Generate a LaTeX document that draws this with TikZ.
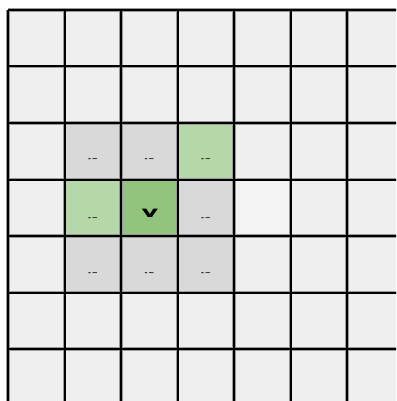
\documentclass[tikz,border=0pt]{standalone}
\usepackage{fontspec}
\setmainfont{Liberation Sans}
\definecolor{base}{HTML}{EFEFEF}
\definecolor{nbr}{HTML}{D9D9D9}
\definecolor{lgreen}{HTML}{B6D7A8}
\definecolor{dgreen}{HTML}{93C47D}
\definecolor{free}{HTML}{F3F3F3}

\begin{document}
\begin{tikzpicture}[
  x=1pt, y=-1pt,
  cell/.style={minimum size=56.5pt, inner sep=0pt, outer sep=0pt, fill=base},
  halo/.style={draw=black!40, line width=3.4pt},
  gridline/.style={draw=black, line width=2pt},
  tag/.style={font=\bfseries\fontsize{9}{9}\selectfont, text=black!85, inner sep=0pt}
]
\useasboundingbox (0,0) rectangle (396,401);
\fill[white] (0,0) rectangle (396,401);
\clip (0,0) rectangle (396,401);

% board cells
\foreach \r in {0,...,6}
  \foreach \c in {0,...,6}
    \node[cell] (c\r\c) at ({36.25+56.5*\c},{38.25+56.5*\r}) {};

% neighbourhood of the current cell
\foreach \r/\c/\col in {2/1/nbr, 2/2/nbr, 3/3/nbr, 4/1/nbr, 4/2/nbr, 4/3/nbr,
                        2/3/lgreen, 3/1/lgreen, 3/2/dgreen, 3/4/free}
  \fill[\col] (c\r\c.north west) rectangle (c\r\c.south east);

% grid lines
\foreach \i in {0,...,7} {
  \draw[halo] ({8+56.5*\i},10) -- ({8+56.5*\i},420);
  \draw[halo] (8,{10+56.5*\i}) -- (420,{10+56.5*\i});
}
\foreach \i in {0,...,7} {
  \draw[gridline] ({8+56.5*\i},10) -- ({8+56.5*\i},420);
  \draw[gridline] (8,{10+56.5*\i}) -- (420,{10+56.5*\i});
}

% clipped labels
\foreach \r/\c/\dy in {2/1/-9, 2/2/-9, 2/3/-9, 3/1/-11, 3/3/-11, 4/1/-10, 4/2/-10, 4/3/-10}
  \node[tag] at ([yshift=\dy pt]c\r\c) {-\,--};

\begin{scope}
  \clip (121,179.5) rectangle (177.5,216.5);
  \node[font=\bfseries\fontsize{31}{31}\selectfont, inner sep=0pt, anchor=base] (cur) at (150,225) {x};
\end{scope}
\end{tikzpicture}
\end{document}
